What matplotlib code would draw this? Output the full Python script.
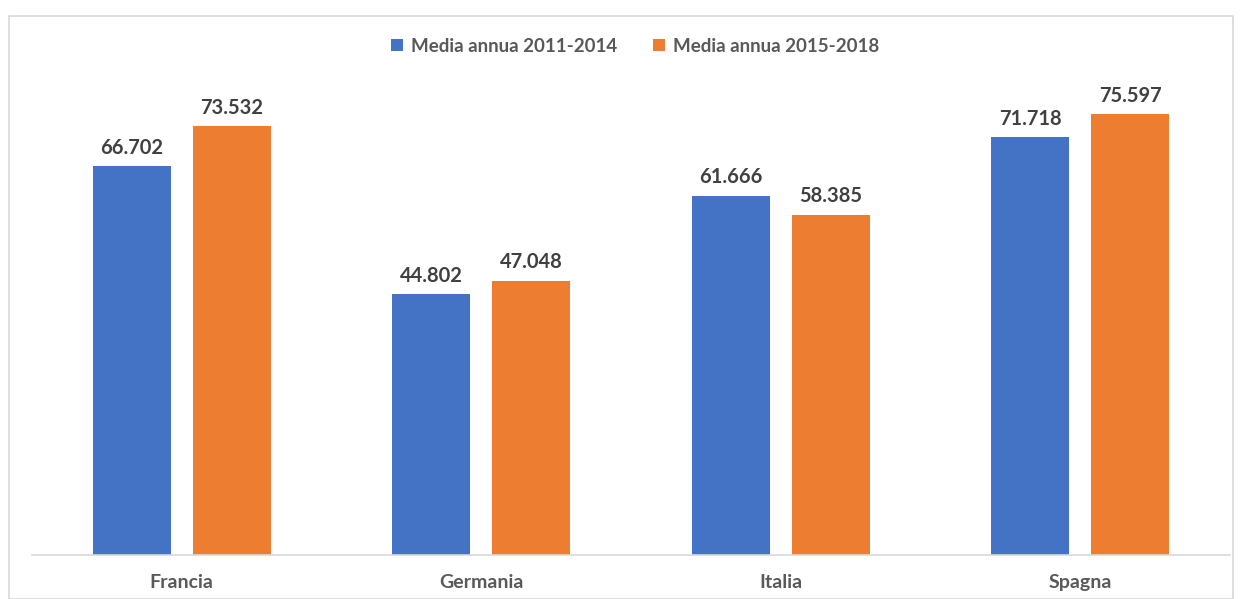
import matplotlib
matplotlib.use("Agg")
import matplotlib.pyplot as plt
from matplotlib.patches import Rectangle
import numpy as np

categories = ["Francia", "Germania", "Italia", "Spagna"]
series_names = ["Media annua 2011-2014", "Media annua 2015-2018"]
values_2011_2014 = [66.702, 44.802, 61.666, 71.718]
values_2015_2018 = [73.532, 47.048, 58.385, 75.597]
colors = ["#4472C4", "#ED7D31"]

plt.rcParams['font.family'] = ['Lato', 'DejaVu Sans']

W, H = 1241, 599
fig = plt.figure(figsize=(W/100, H/100), dpi=100)
fig.patches.append(Rectangle((8.5/W, 0), (1233-8.5)/W, 1-15.5/H, transform=fig.transFigure,
                             fill=False, edgecolor="#D9D9D9", linewidth=1.2))

ax = fig.add_axes([32/W, 1-555/H, 1198/W, (555-80)/H])
x = np.arange(len(categories))
width = 0.26
off = 0.167
for vals, dx, c, name in [(values_2011_2014, -off, colors[0], series_names[0]),
                          (values_2015_2018, off, colors[1], series_names[1])]:
    bars = ax.bar(x + dx, vals, width, color=c, label=name, zorder=2)
    for b, v in zip(bars, vals):
        ax.annotate(f"{v:.3f}", (b.get_x() + b.get_width()/2, v), xytext=(0, 6),
                    textcoords="offset points", ha="center", va="bottom",
                    fontsize=14.5, fontweight="bold", color="#404040")

ax.set_xlim(-0.5, 3.5)
ax.set_ylim(0, 81.5)
for s in ["top", "right", "left"]:
    ax.spines[s].set_visible(False)
ax.spines["bottom"].set_color("#D9D9D9")
ax.spines["bottom"].set_linewidth(1.2)
ax.set_yticks([])
ax.set_xticks(x)
ax.set_xticklabels(categories, fontsize=14, fontweight="bold", color="#595959")
ax.tick_params(axis="x", length=0, pad=14)

leg = fig.legend(loc="center", bbox_to_anchor=(635/W, 1-46/H), ncol=2, frameon=False,
                 prop={"size": 13.5, "weight": "bold"}, handlelength=0.65, handleheight=0.65,
                 handletextpad=0.4, columnspacing=1.9)
for t in leg.get_texts():
    t.set_color("#595959")

fig.savefig("out.png", dpi=100)
